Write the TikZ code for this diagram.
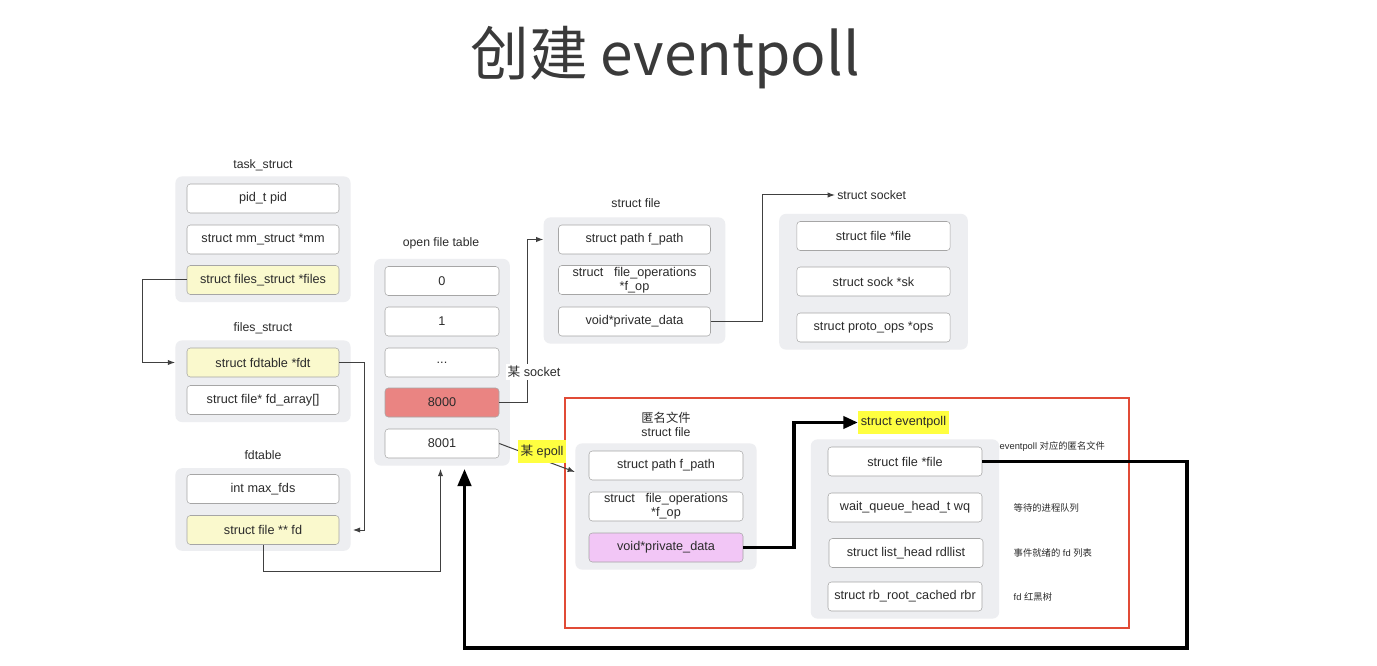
\documentclass[tikz,border=0pt]{standalone}
\usepackage{fontspec}
\setmainfont{Liberation Sans}
\newfontfamily\cjk{Noto Sans CJK SC}
\usetikzlibrary{arrows.meta,fit,backgrounds,calc}
\definecolor{ink}{HTML}{2B2B2B}
\definecolor{headgray}{HTML}{3A3A3A}
\definecolor{grpbg}{HTML}{EDEEF1}
\definecolor{boxline}{HTML}{A6A6A6}
\definecolor{paleyel}{HTML}{FAF9CD}
\definecolor{hot}{HTML}{EA8482}
\definecolor{pinkish}{HTML}{F2C6F6}
\definecolor{hiyel}{HTML}{FFFF40}
\definecolor{frame}{HTML}{E14B36}
\begin{document}
\begin{tikzpicture}[
		x=0.75pt, y=-0.75pt,
		box/.style={draw=boxline, fill=white, rounded corners=2.5pt, minimum width=114pt, minimum height=21.75pt, inner sep=0pt, align=center, text=ink, font=\fontsize{9.5}{10.5}\selectfont},
		grp/.style={fill=grpbg, rounded corners=5pt, inner ysep=5.5pt},
		lbl/.style={text=ink, align=center, font=\fontsize{9.2}{11}\selectfont},
		note/.style={anchor=west, text=ink, font=\fontsize{7}{8}\selectfont},
		tag/.style={fill=hiyel, inner xsep=2pt, inner ysep=4pt, text=ink, font=\fontsize{9.5}{11}\selectfont},
		ptr/.style={draw=black!75, line width=0.75pt, -{Latex[length=5.5pt,width=4pt]}},
		bigptr/.style={line width=2.8pt, -{Triangle[length=11pt,width=9pt]}}
	]
	\node[text=headgray, font=\cjk\fontsize{44}{44}\selectfont] (head) at (665,58) {创建 eventpoll};

	% task_struct
	\node[lbl] (tasklbl) at (263,165) {task\_struct};
	\node[box] (pid) at (263,198.5) {pid\_t pid};
	\node[box] (mm) at (263,239.5) {struct mm\_struct *mm};
	\node[box, fill=paleyel] (files) at (263,280) {struct files\_struct *files};

	% files_struct
	\node[lbl] (fileslbl) at (263,328) {files\_struct};
	\node[box, fill=paleyel] (fdt) at (263,362.5) {struct fdtable *fdt};
	\node[box] (fdarr) at (263,400) {struct file* fd\_array[]};

	% fdtable
	\node[lbl] (fdtlbl) at (263,455) {fdtable};
	\node[box] (maxfds) at (263,489) {int max\_fds};
	\node[box, fill=paleyel] (fd) at (263,530) {struct file ** fd};

	% open file table
	\node[lbl] (oftlbl) at (441,243) {open file table};
	\node[box, minimum width=85.5pt] (n0) at (442,281) {0};
	\node[box, minimum width=85.5pt] (n1) at (442,321.5) {1};
	\node[box, minimum width=85.5pt] (ndots) at (442,362.5) {...};
	\node[box, minimum width=85.5pt, fill=hot] (n8000) at (442,402.5) {8000};
	\node[box, minimum width=85.5pt] (n8001) at (442,443.5) {8001};

	% struct file
	\node[lbl] (sflbl) at (636,203) {struct file};
	\node[box] (fpath) at (634.5,239.5) {struct path f\_path};
	\node[box] (fop) at (634.5,280) {struct~~~file\_operations\\*f\_op};
	\node[box] (fpriv) at (634.5,321.5) {void*private\_data};

	% struct socket
	\node[lbl, anchor=west, inner sep=1.5pt] (socklbl) at (835,195) {struct socket};
	\node[box, minimum width=115pt] (sfile) at (873.5,236) {struct file *file};
	\node[box, minimum width=115pt] (ssk) at (873.5,281.5) {struct sock *sk};
	\node[box, minimum width=115pt] (sops) at (873.5,327.5) {struct proto\_ops *ops};

	% anonymous struct file
	\node[lbl] (anonlbl) at (666,424.5) {{\cjk 匿名文件}\\struct file};
	\node[box, minimum width=115.5pt] (apath) at (666,465.5) {struct path f\_path};
	\node[box, minimum width=115.5pt] (aop) at (666,506.5) {struct~~~file\_operations\\*f\_op};
	\node[box, minimum width=115.5pt, fill=pinkish] (apriv) at (666,547.5) {void*private\_data};

	% struct eventpoll
	\node[tag] (eptag) at (903.5,422.5) {struct eventpoll};
	\node[box, minimum width=115.5pt] (epfile) at (905,461.5) {struct file *file};
	\node[box, minimum width=115.5pt] (epwq) at (905,507.5) {wait\_queue\_head\_t wq};
	\node[box, minimum width=115.5pt] (eprdl) at (906,553) {struct list\_head rdllist};
	\node[box, minimum width=115.5pt] (eprbr) at (905,596.5) {struct rb\_root\_cached rbr};
	\node[note] (note1) at (995,447) {eventpoll {\cjk 对应的匿名文件}};
	\node[note] (note2) at (1009,508) {\cjk 等待的进程队列};
	\node[note] (note3) at (1009,553) {{\cjk 事件就绪的} fd {\cjk 列表}};
	\node[note] (note4) at (1009,597) {fd {\cjk 红黑树}};

	\begin{scope}[on background layer]
		\fill[white] (0,0) rectangle (1377,666);
		\node[grp, inner xsep=8.5pt, fit=(pid)(files)] (taskbg) {};
		\node[grp, inner xsep=8.5pt, fit=(fdt)(fdarr)] (filesbg) {};
		\node[grp, inner xsep=8.5pt, inner ysep=4.5pt, fit=(maxfds)(fd)] (fdtbg) {};
		\node[grp, inner xsep=7.9pt, fit=(n0)(n8001)] (oftbg) {};
		\node[grp, inner xsep=10.9pt, fit=(fpath)(fpriv)] (sfbg) {};
		\node[grp, inner xsep=13pt, fit=(sfile)(sops)] (sockbg) {};
		\node[grp, inner xsep=10pt, fit=(apath)(apriv)] (anonbg) {};
		\node[grp, inner xsep=12.7pt, fit=(epfile)(eprbr)] (epbg) {};
	\end{scope}

	\draw[draw=frame, line width=1.6pt] (565,398) rectangle (1129,628);

	\coordinate (epin) at (575,472);
	\coordinate (back) at (1187,648);

	\draw[ptr] (files.west) -- ++(-44,0) |- (fdt.west -| filesbg.west);
	\draw[ptr] (fdt.east) -- ++(25,0) |- ($(fd.east -| fdtbg.east)+(2,0)$);
	\draw[ptr] (fd.south) -- ++(0,26.5) -| ($(oftbg.south)+(-1.5,3)$);
	\draw[ptr] (n8000.east) -- ++(28,0) |- (fpath -| sfbg.west);
	\draw[ptr] (n8001.east) -- (epin);
	\draw[ptr] (fpriv.east) -- ++(52,0) |- (socklbl.west);
	\draw[bigptr] (apriv.east) -- ++(51,0) |- (eptag.west);
	\draw[bigptr, -{Triangle[length=13pt,width=10pt]}] (epfile.east) -| (back) -| ($(oftbg.south)+(22.5,3)$);

	\node[lbl, fill=white, inner sep=1.5pt, font=\fontsize{9.5}{11}\selectfont] (socktag) at (534,372) {{\cjk 某} socket};
	\node[tag] (epolltag) at (542,451.5) {{\cjk 某} epoll};
\end{tikzpicture}
\end{document}
